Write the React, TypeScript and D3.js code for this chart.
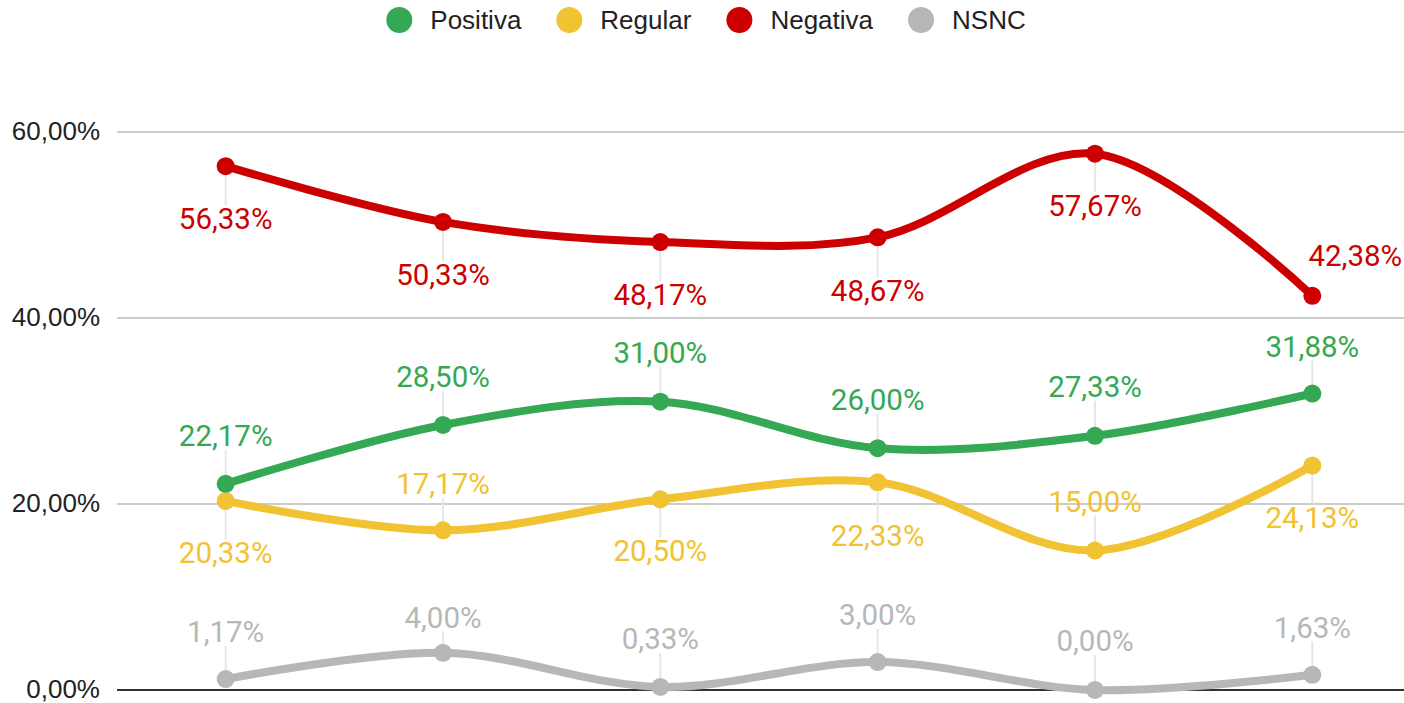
import React from "react";
import * as d3 from "d3";

const categories = ["P1", "P2", "P3", "P4", "P5", "P6"];
const positiva = [22.17, 28.5, 31.0, 26.0, 27.33, 31.88];
const regular = [20.33, 17.17, 20.5, 22.33, 15.0, 24.13];
const negativa = [56.33, 50.33, 48.17, 48.67, 57.67, 42.38];
const nsnc = [1.17, 4.0, 0.33, 3.0, 0.0, 1.63];
const yTicks = [0, 20, 40, 60];

const seriesNames = ["Positiva", "Regular", "Negativa", "NSNC"];
const seriesColors = ["#34a853", "#f1c232", "#cc0000", "#b7b7b7"];

// label placement (pixel offsets from the point)
const positivaLabelDy = [-48, -48, -49, -48, -49, -47];
const regularLabelDy = [52, -46, 52, 54, -49, 52];
const negativaLabelDy = [53, 53, 53, 54, 52, -40];
const nsncLabelDy = [-47, -35, -48, -47, -49, -47];
const negativaLabelDx = [0, 0, 0, 0, 0, 43];

const W = 1404;
const H = 703;

const fmt = (v: number) => v.toFixed(2).replace(".", ",") + "%";

function measure(text: string, font: string): number {
  try {
    const c = document.createElement("canvas").getContext("2d");
    if (c) {
      c.font = font;
      return c.measureText(text).width;
    }
  } catch (e) {}
  return text.length * 12;
}

export default function App() {
  const x = d3.scalePoint<string>().domain(categories).range([117, 1421]).padding(0.5);
  const y = d3.scaleLinear().domain([0, 60]).range([690, 132]);

  const seriesData = [positiva, regular, negativa, nsnc];
  const dys = [positivaLabelDy, regularLabelDy, negativaLabelDy, nsncLabelDy];
  const dxs = [null, null, negativaLabelDx, null];

  const line = d3
    .line<number>()
    .x((_, i) => x(categories[i]) as number)
    .y((d) => y(d))
    .curve(d3.curveCatmullRom.alpha(0.5));

  // legend layout
  const legendFamily = "'Liberation Sans', Arial, sans-serif";
  const legendFont = "26px 'Liberation Sans', Arial, sans-serif";
  const items = seriesNames.map((n) => measure(n, legendFont));
  const r = 13;
  const gapText = 18;
  const gapItem = 35;
  const total = items.reduce((s, w) => s + 2 * r + gapText + w, 0) + gapItem * (items.length - 1);
  let lx = W / 2 - total / 2 + 4;
  const legendPos = items.map((w) => {
    const p = { cx: lx + r, tx: lx + 2 * r + gapText };
    lx += 2 * r + gapText + w + gapItem;
    return p;
  });

  return (
    <svg width={W} height={H} style={{ position: "absolute", left: 0, top: 0, background: "#fff" }}>
      <rect width={W} height={H} fill="#fff" />
      {/* legend */}
      {seriesNames.map((n, i) => (
        <g key={n}>
          <circle cx={legendPos[i].cx} cy={20} r={r} fill={seriesColors[i]} />
          <text x={legendPos[i].tx} y={20} dominantBaseline="central" fontFamily={legendFamily} fontSize={26} fill="#222">
            {n}
          </text>
        </g>
      ))}
      {/* grid */}
      {yTicks.map((t) => (
        <g key={t}>
          {t !== 0 && <line x1={117} x2={W} y1={y(t)} y2={y(t)} stroke="#cccccc" strokeWidth={2} />}
          <text x={100} y={y(t) - 1} textAnchor="end" dominantBaseline="central" fontFamily={legendFamily} fontSize={26} fill="#222">
            {t.toFixed(2).replace(".", ",") + "%"}
          </text>
        </g>
      ))}
      {/* leader lines */}
      {seriesData.map((vals, si) =>
        vals.map((v, i) => {
          const px = x(categories[i]) as number;
          const py = y(v);
          const dy = dys[si][i];
          const dx = dxs[si] ? (dxs[si] as number[])[i] : 0;
          if (dx !== 0) return null;
          const ly = py + dy + (dy > 0 ? -14 : 14);
          return <line key={`ll${si}-${i}`} x1={px} x2={px} y1={py} y2={ly} stroke="#e6e6e6" strokeWidth={2} />;
        })
      )}
      <line x1={117} x2={W} y1={y(0)} y2={y(0)} stroke="#333" strokeWidth={2} />
      {/* lines */}
      {[3, 1, 0, 2].map((si) => (
        <path key={`p${si}`} d={line(seriesData[si]) as string} fill="none" stroke={seriesColors[si]} strokeWidth={8} strokeLinejoin="round" />
      ))}
      {/* points */}
      {[3, 1, 0, 2].map((si) =>
        seriesData[si].map((v, i) => (
          <circle key={`c${si}-${i}`} cx={x(categories[i]) as number} cy={y(v)} r={9} fill={seriesColors[si]} />
        ))
      )}
      {/* labels */}
      {seriesData.map((vals, si) =>
        vals.map((v, i) => {
          const px = x(categories[i]) as number;
          const dx = dxs[si] ? (dxs[si] as number[])[i] : 0;
          return (
            <text
              key={`t${si}-${i}`}
              x={px + dx}
              y={y(v) + dys[si][i]}
              textAnchor="middle"
              dominantBaseline="central"
              fontFamily="Roboto"
              fontSize={29.5}
              fill={seriesColors[si]}
            >
              {fmt(v)}
            </text>
          );
        })
      )}
    </svg>
  );
}
